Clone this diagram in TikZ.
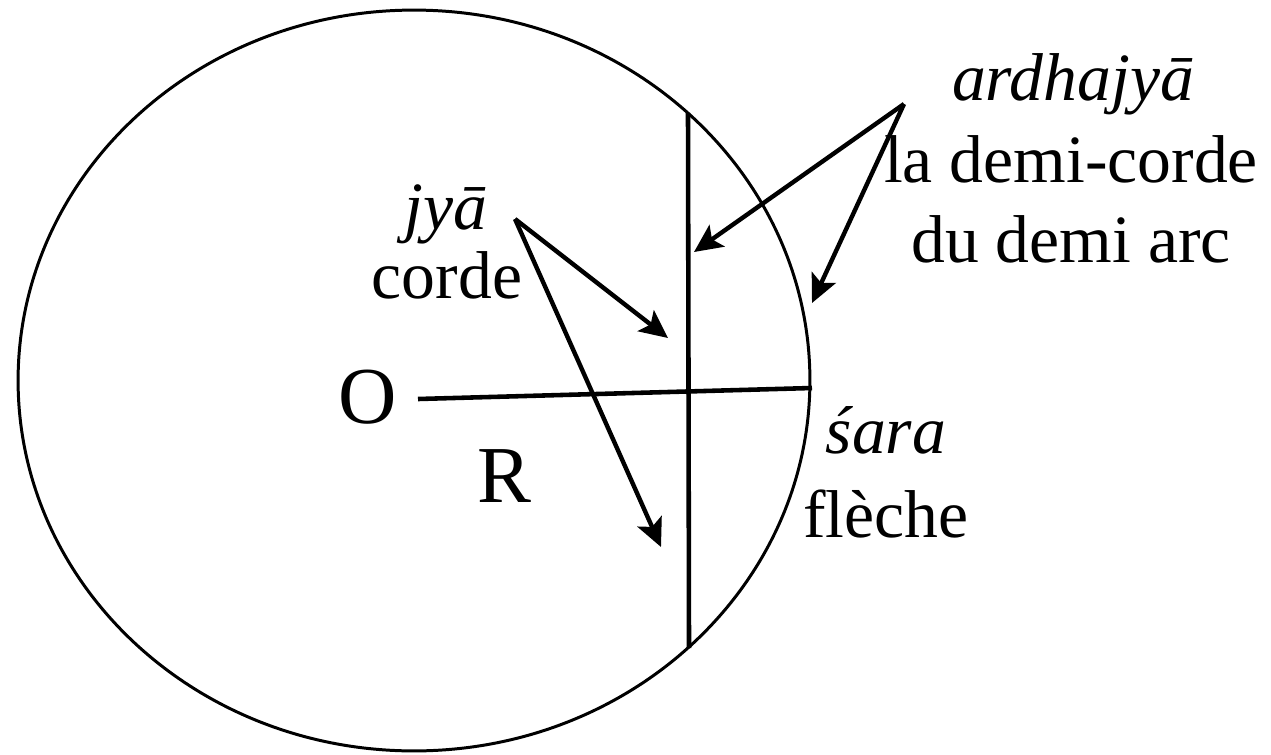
\documentclass[tikz,border=0pt]{standalone}
\usepackage{fontspec}
\setmainfont{Liberation Serif}
\usetikzlibrary{arrows.meta}

\begin{document}
\begin{tikzpicture}[
  x=0.02cm, y=-0.02cm,
  word/.style={inner sep=0pt, anchor=base, font=\fontsize{38.5}{46}\selectfont},
  letter/.style={inner sep=0pt, anchor=base, font=\fontsize{46}{54}\selectfont},
  chord/.style={draw=black, line width=2.6pt},
  pointer/.style={draw=black, line width=2.5pt, -{Stealth[length=16pt,width=15pt,inset=3.5pt]}}
]
  \useasboundingbox (0,0) rectangle (1271,754);
  \draw[line width=1.7pt] (414,380.5) ellipse [x radius=7.92cm, y radius=7.41cm];
  % labels
  \node[letter] (O) at (368,423) {O};
  \node[letter] (R) at (504,502) {R};
  \node[word] (jya) at (446,229) {\itshape jyā};
  \node[word] (corde) at (447,298) {corde};
  \node[word] (ardha) at (1073,100) {\itshape ardhajyā};
  \node[word] (demicorde) at (1071,182) {la demi-corde};
  \node[word] (demiarc) at (1071,262) {du demi arc};
  \node[word] (sara) at (886,453) {\itshape śara};
  \node[word] (fleche) at (886,537) {flèche};
  % chords
  \coordinate (ctop) at (688,113);
  \coordinate (cbot) at (689,648);
  \coordinate (rstart) at (418,399);
  \coordinate (rend) at (812,388);
  \draw[chord] (ctop) -- (cbot);
  \draw[chord] (rstart) -- (rend);
  % pointers
  \coordinate (jtail) at (515,219);
  \coordinate (jtip1) at (668,338);
  \coordinate (jtip2) at (661,547);
  \coordinate (atail) at (904,104);
  \coordinate (atip1) at (694,252);
  \coordinate (atip2) at (812,303);
  \draw[pointer] (jtail) -- (jtip1);
  \draw[pointer] (jtail) -- (jtip2);
  \draw[pointer] (atail) -- (atip1);
  \draw[pointer] (atail) -- (atip2);
\end{tikzpicture}
\end{document}
